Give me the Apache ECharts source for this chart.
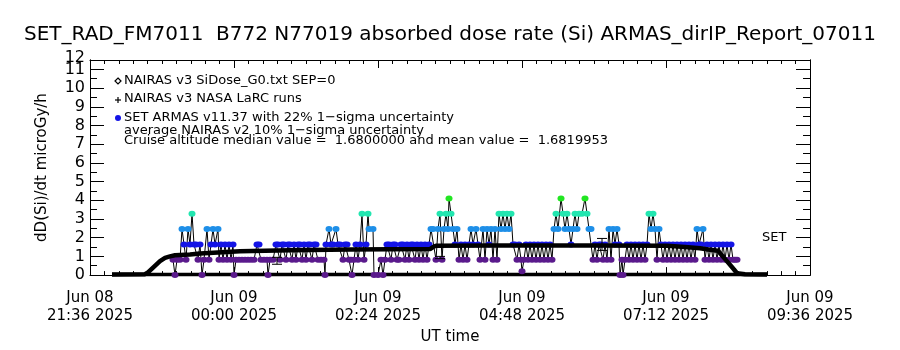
<!DOCTYPE html>
<html>
<head>
<meta charset="utf-8">
<script src="https://cdn.jsdelivr.net/npm/echarts@6/dist/echarts.min.js"></script>
<style>
html, body { margin: 0; padding: 0; background: #fff; }
#chart { width: 900px; height: 350px; }
</style>
</head>
<body>
<div id="chart"></div>
<script>
// x values are minutes after 2025-06-08 21:36 UT
const startUT = Date.UTC(2025, 5, 8, 21, 36)
const xTickStep = 144

// NAIRAS v3 SiDose_G0 model curve
const nairasMin = [22, 55, 58, 62, 66, 70, 75, 80, 85, 100, 110, 150, 200, 260, 340, 343, 346, 400, 500, 577, 595, 610, 620, 628, 632, 636, 640, 644, 647, 655, 677]
const nairasVal = [0.03, 0.05, 0.15, 0.35, 0.55, 0.75, 0.92, 1.0, 1.06, 1.1, 1.16, 1.27, 1.33, 1.37, 1.39, 1.5, 1.57, 1.58, 1.58, 1.57, 1.5, 1.44, 1.36, 1.3, 1.05, 0.8, 0.55, 0.3, 0.1, 0.04, 0.03]

// NAIRAS v3 NASA LaRC runs (ground level line)
const larcMin = [22, 100, 200, 300, 400, 500, 600, 677]
const larcVal = [0.03, 0.03, 0.03, 0.03, 0.03, 0.03, 0.03, 0.03]

// SET ARMAS v11.37 measurements
const armasMin = [83, 85, 87, 90, 92, 94, 96, 98, 100, 102, 104, 106, 108, 110, 112, 114, 117, 119, 121, 123, 125, 128, 129, 131, 133, 135, 137, 139, 141, 143, 144, 146, 149, 152, 155, 158, 161, 164, 167, 169, 171, 174, 177, 178, 180, 183, 186, 188, 190, 192, 194, 196, 198, 200, 202, 204, 206, 208, 210, 212, 214, 216, 218, 220, 222, 224, 226, 228, 231, 234, 235, 236, 239, 241, 243, 246, 248, 250, 253, 255, 257, 259, 261, 262, 264, 266, 268, 270, 272, 274, 276, 278, 279, 283, 284, 288, 291, 293, 295, 297, 299, 301, 303, 305, 307, 309, 311, 313, 315, 317, 319, 321, 323, 325, 327, 329, 331, 333, 335, 337, 339, 341, 343, 346, 348, 350, 352, 354, 356, 358, 359, 361, 363, 365, 367, 369, 371, 373, 375, 377, 379, 381, 383, 386, 388, 390, 393, 395, 397, 399, 401, 403, 405, 407, 409, 411, 413, 415, 417, 419, 421, 423, 425, 427, 429, 431, 432, 434, 436, 438, 440, 442, 444, 446, 448, 450, 452, 454, 456, 458, 460, 462, 464, 466, 468, 471, 473, 475, 477, 479, 481, 483, 485, 487, 489, 492, 495, 497, 499, 501, 503, 505, 507, 509, 511, 513, 515, 517, 519, 521, 523, 525, 527, 529, 530, 532, 533, 535, 537, 539, 541, 543, 545, 547, 549, 551, 553, 555, 557, 559, 561, 563, 565, 567, 569, 571, 573, 575, 577, 579, 581, 583, 585, 587, 589, 591, 593, 595, 597, 599, 601, 603, 605, 607, 609, 611, 613, 615, 617, 619, 621, 623, 625, 627, 629, 631, 633, 635, 637, 639, 641, 643, 645, 647]
const armasVal = [0.82, 0, 0.82, 0.82, 2.46, 1.64, 0.82, 2.46, 1.64, 3.28, 1.64, 1.64, 0.82, 1.64, 0, 0.82, 2.46, 0.82, 1.64, 2.46, 1.64, 2.46, 0.82, 1.64, 0.82, 1.64, 0.82, 1.64, 0.82, 1.64, 0, 0.82, 0.82, 0.82, 0.82, 0.82, 0.82, 0.82, 1.64, 1.64, 0.82, 0.82, 0.82, 0, 0.82, 0.82, 1.64, 1.64, 0.82, 1.64, 1.64, 0.82, 1.64, 1.64, 0.82, 1.64, 0.82, 1.64, 1.64, 0.82, 1.64, 0.82, 1.64, 1.64, 0.82, 1.64, 1.64, 0.82, 0.82, 0.82, 0, 1.64, 2.46, 1.64, 1.64, 2.46, 1.64, 1.64, 0.82, 1.64, 1.64, 0.82, 0.82, 0, 0.82, 1.64, 0.82, 1.64, 3.28, 0.82, 1.64, 3.28, 2.46, 2.46, 0, 0, 0.82, 0, 0.82, 1.64, 1.64, 0.82, 1.64, 1.64, 0.82, 0.82, 1.64, 1.64, 0.82, 1.64, 0.82, 1.64, 1.64, 0.82, 1.64, 0.82, 1.64, 0.82, 1.64, 0.82, 1.64, 2.46, 2.46, 0.82, 2.46, 3.28, 0.82, 2.46, 3.28, 2.46, 4.1, 3.28, 2.46, 1.64, 2.46, 0.82, 1.64, 0.82, 1.64, 0.82, 1.64, 2.46, 1.64, 2.46, 1.64, 0.82, 2.46, 0.82, 2.46, 1.64, 2.46, 0.82, 2.46, 0.82, 3.28, 2.46, 3.28, 2.46, 3.28, 2.46, 3.28, 1.64, 1.64, 0.82, 1.64, 0.82, 0.2, 0.82, 1.64, 0.82, 1.64, 0.82, 1.64, 0.82, 1.64, 0.82, 1.64, 0.82, 1.64, 0.82, 1.64, 0.82, 2.46, 3.28, 2.46, 4.1, 3.28, 2.46, 3.28, 2.46, 1.64, 2.46, 3.28, 2.46, 3.28, 3.28, 4.1, 3.28, 2.46, 2.46, 0.82, 1.64, 0.82, 1.64, 1.64, 0.82, 1.64, 0.82, 2.46, 0.82, 2.46, 1.64, 2.46, 1.64, 0, 0.82, 0, 0.82, 1.64, 0.82, 1.64, 0.82, 1.64, 0.82, 1.64, 0.82, 1.64, 0.82, 1.64, 3.28, 2.46, 3.28, 2.46, 0.82, 2.46, 1.64, 0.82, 1.64, 0.82, 1.64, 0.82, 1.64, 0.82, 1.64, 0.82, 1.64, 0.82, 1.64, 0.82, 1.64, 0.82, 1.64, 0.82, 2.46, 1.64, 1.64, 2.46, 0.82, 1.64, 0.82, 1.64, 0.82, 1.64, 0.82, 1.64, 0.82, 1.64, 0.82, 1.64, 0.82, 1.64, 0.82, 0.82, 0.82]

// average NAIRAS 10% 1-sigma uncertainty bars
const errMin = [187, 350, 512]
const errLow = [0.58, 0.88, 1.32]
const errHigh = [0.95, 1.0, 1.96]

const yTop = 11.5
const txtFont = 'DejaVu Sans'

function armasColor(v) {
  if (v >= 4) return '#22e622'
  if (v >= 3) return '#22e6b0'
  if (v >= 2.2) return '#1e8fe8'
  if (v >= 1.4) return '#1414e6'
  return '#5a1a8c'
}

function xLabel(m) {
  const d = new Date(startUT + m * 60000)
  const mon = ['Jan', 'Feb', 'Mar', 'Apr', 'May', 'Jun', 'Jul', 'Aug', 'Sep', 'Oct', 'Nov', 'Dec'][d.getUTCMonth()]
  const dd = String(d.getUTCDate()).padStart(2, '0')
  const hh = String(d.getUTCHours()).padStart(2, '0')
  const mm = String(d.getUTCMinutes()).padStart(2, '0')
  return mon + ' ' + dd + '\n' + hh + ':' + mm + ' ' + d.getUTCFullYear()
}

const pairs = (xs, ys) => xs.map((x, i) => [x, ys[i]])

const chart = echarts.init(document.getElementById('chart'))

const baseX = {
  type: 'value',
  min: 0,
  max: 720,
  interval: xTickStep,
  axisLine: { show: true, onZero: false, lineStyle: { color: '#000', width: 1 } },
  axisTick: { show: true, inside: true, length: 8, lineStyle: { color: '#000' } },
  minorTick: { show: true, splitNumber: 10, length: 4, lineStyle: { color: '#000' } },
  splitLine: { show: false },
}

const baseY = {
  type: 'value',
  min: 0,
  max: yTop,
  axisLine: { show: true, onZero: false, lineStyle: { color: '#000', width: 1 } },
  splitLine: { show: false },
  axisLabel: { show: false },
}

const option = {
  animation: false,
  backgroundColor: '#fff',
  grid: { left: 90, right: 90, top: 60, bottom: 71 },
  xAxis: [
    {
      ...baseX,
      position: 'bottom',
      name: 'UT time',
      nameLocation: 'middle',
      nameGap: 53,
      nameTextStyle: { fontFamily: txtFont, fontSize: 15, color: '#000' },
      axisLabel: {
        showMinLabel: true,
        showMaxLabel: true,
        margin: 14,
        fontFamily: txtFont,
        fontSize: 15,
        lineHeight: 18,
        color: '#000',
        formatter: xLabel,
      },
    },
    { ...baseX, position: 'top', axisLabel: { show: false } },
  ],
  yAxis: [
    {
      ...baseY,
      position: 'left',
      interval: 1,
      name: 'dD(Si)/dt microGy/h',
      nameLocation: 'middle',
      nameGap: 40,
      nameTextStyle: { fontFamily: txtFont, fontSize: 15, color: '#000' },
      axisTick: { show: true, inside: true, length: 14, lineStyle: { color: '#000' } },
      axisLabel: {
        show: true,
        margin: 5,
        showMaxLabel: false,
        fontFamily: txtFont,
        fontSize: 16,
        color: '#000',
        formatter: (v) => (Number.isInteger(v) ? String(v) : ''),
      },
    },
    { ...baseY, position: 'left', interval: 0.5, axisTick: { show: true, inside: true, length: 7, lineStyle: { color: '#000' } } },
    { ...baseY, position: 'right', interval: 1, axisTick: { show: true, inside: true, length: 14, lineStyle: { color: '#000' } } },
    { ...baseY, position: 'right', interval: 0.5, axisTick: { show: true, inside: true, length: 7, lineStyle: { color: '#000' } } },
  ],
  series: [
    {
      name: 'NAIRAS v3 NASA LaRC runs',
      type: 'line',
      clip: false,
      z: 3,
      showSymbol: false,
      lineStyle: { color: '#000', width: 3.5 },
      data: pairs(larcMin, larcVal),
    },
    {
      name: 'SET ARMAS line',
      type: 'line',
      z: 2,
      showSymbol: false,
      lineStyle: { color: '#000', width: 1 },
      data: pairs(armasMin, armasVal),
    },
    {
      name: 'SET ARMAS v11.37',
      type: 'scatter',
      z: 4,
      symbol: 'circle',
      symbolSize: [7, 6],
      itemStyle: { color: (p) => armasColor(p.value[1]), opacity: 1 },
      data: pairs(armasMin, armasVal),
    },
    {
      name: 'NAIRAS v3 SiDose_G0.txt SEP=0',
      type: 'line',
      z: 5,
      showSymbol: false,
      lineStyle: { color: '#000', width: 4.5 },
      data: pairs(nairasMin, nairasVal),
    },
    {
      name: 'average NAIRAS v2 10% 1-sigma uncertainty',
      type: 'custom',
      z: 6,
      data: errMin.map((m, i) => [m, errLow[i], errHigh[i]]),
      renderItem: (params, api) => {
        const lo = api.coord([api.value(0), api.value(1)])
        const hi = api.coord([api.value(0), api.value(2)])
        const w = 5
        const st = { stroke: '#000', lineWidth: 1 }
        return {
          type: 'group',
          children: [
            { type: 'line', shape: { x1: lo[0], y1: lo[1], x2: hi[0], y2: hi[1] }, style: st },
            { type: 'line', shape: { x1: lo[0] - w, y1: lo[1], x2: lo[0] + w, y2: lo[1] }, style: st },
            { type: 'line', shape: { x1: hi[0] - w, y1: hi[1], x2: hi[0] + w, y2: hi[1] }, style: st },
          ],
        }
      },
    },
  ],
  graphic: [
    {
      type: 'text',
      left: 'center',
      top: 25,
      style: {
        text: 'SET_RAD_FM7011  B772 N77019 absorbed dose rate (Si) ARMAS_dirIP_Report_07011',
        font: '20px "DejaVu Sans"',
        fill: '#000',
      },
    },
    // top y label, drawn where the reference puts it
    { type: 'text', x: 85, y: 58, style: { text: '12', font: '16px "DejaVu Sans"', fill: '#000', align: 'right', verticalAlign: 'middle' } },
    // legend symbols
    { type: 'polygon', shape: { points: [[118, 78], [121, 81], [118, 84], [115, 81]] }, style: { fill: '#fff', stroke: '#000', lineWidth: 1.2 } },
    { type: 'line', shape: { x1: 115, y1: 100, x2: 121, y2: 100 }, style: { stroke: '#000', lineWidth: 1.2 } },
    { type: 'line', shape: { x1: 118, y1: 97, x2: 118, y2: 103 }, style: { stroke: '#000', lineWidth: 1.2 } },
    { type: 'circle', shape: { cx: 118, cy: 118, r: 3 }, style: { fill: '#1414e6' } },
    // legend texts
    { type: 'text', x: 124, y: 81, style: { text: 'NAIRAS v3 SiDose_G0.txt SEP=0', font: '13px "DejaVu Sans"', fill: '#000', verticalAlign: 'middle' } },
    { type: 'text', x: 124, y: 99, style: { text: 'NAIRAS v3 NASA LaRC runs', font: '13px "DejaVu Sans"', fill: '#000', verticalAlign: 'middle' } },
    { type: 'text', x: 124, y: 118, style: { text: 'SET ARMAS v11.37 with 22% 1\u2212sigma uncertainty', font: '13px "DejaVu Sans"', fill: '#000', verticalAlign: 'middle' } },
    { type: 'text', x: 124, y: 131, style: { text: 'average NAIRAS v2 10% 1\u2212sigma uncertainty', font: '13px "DejaVu Sans"', fill: '#000', verticalAlign: 'middle' } },
    { type: 'text', x: 124, y: 141, style: { text: 'Cruise altitude median value =  1.6800000 and mean value =  1.6819953', font: '13px "DejaVu Sans"', fill: '#000', verticalAlign: 'middle' } },
    { type: 'text', x: 762, y: 238, style: { text: 'SET', font: '13px "DejaVu Sans"', fill: '#000', verticalAlign: 'middle' } },
  ],
}

chart.setOption(option)
</script>
</body>
</html>
